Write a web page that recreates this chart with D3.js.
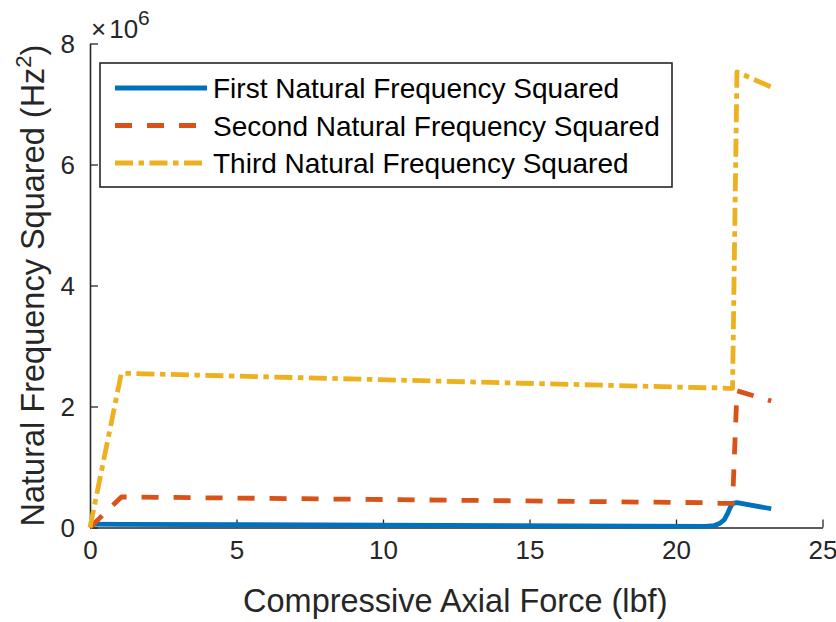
<!DOCTYPE html>
<html>
<head>
<meta charset="utf-8">
<script src="https://cdn.jsdelivr.net/npm/d3@7"></script>
<style>
  html, body { margin: 0; padding: 0; background: #fff; }
  svg { display: block; font-family: "Liberation Sans", Arial, Helvetica, sans-serif; }
</style>
</head>
<body>
<svg id="chart" width="836" height="622"></svg>
<script>
// Compressive axial force samples (lbf)
const force = [0, 1.07, 21.0, 21.3, 21.5, 21.65, 21.75, 21.85, 21.93, 22.08, 23.25];

// Squared natural frequencies, in units of 1e6 Hz^2
const firstFreqSq  = [0.055, 0.053, 0.02, 0.03, 0.07, 0.13, 0.22, 0.33, 0.40, 0.41, 0.31];
const secondFreqSq = [0, 0.505, 0.41, 0.405, 0.40, 0.40, 0.40, 0.40, 0.40, 2.26, 2.09];
const thirdFreqSq  = [0, 2.55, 2.31, 2.31, 2.305, 2.305, 2.30, 2.30, 2.30, 7.53, 7.28];

const seriesNames = [
  "First Natural Frequency Squared",
  "Second Natural Frequency Squared",
  "Third Natural Frequency Squared"
];

const xTicks = [0, 5, 10, 15, 20, 25];
const yTicks = [0, 2, 4, 6, 8];

const svg = d3.select("#chart");
const axisColor = "#262626";

const plotLeft = 90, plotRight = 822.5, plotTop = 43.5, plotBottom = 527.5;

const x = d3.scaleLinear().domain([0, 25]).range([plotLeft, plotRight]);
const y = d3.scaleLinear().domain([0, 8]).range([plotBottom, plotTop]);

const styles = [
  { color: "#0072BD", dash: null },
  { color: "#D95319", dash: "17,15" },
  { color: "#EDB120", dash: "18,5.5,5.5,5.5" }
];
const seriesValues = [firstFreqSq, secondFreqSq, thirdFreqSq];

// Axes: left and bottom only, inward ticks
const xAxis = d3.axisBottom(x).tickValues(xTicks).tickSizeInner(-8).tickSizeOuter(0).tickPadding(13);
const yAxis = d3.axisLeft(y).tickValues(yTicks).tickSizeInner(-8).tickSizeOuter(0).tickPadding(15);

const gx = svg.append("g").attr("transform", `translate(0,${plotBottom})`).call(xAxis);
const gy = svg.append("g").attr("transform", `translate(${plotLeft},0)`).call(yAxis);

[gx, gy].forEach(g => {
  g.select(".domain").attr("stroke", axisColor).attr("stroke-width", 1.6);
  g.selectAll(".tick line").attr("stroke", axisColor).attr("stroke-width", 1.3);
  g.selectAll(".tick text").attr("fill", axisColor).style("font-size", "26px")
    .style("font-family", "'Liberation Sans', Arial, sans-serif");
});
gy.selectAll(".tick text").attr("dy", "0.34em");

// Exponent marker above the y axis
const expo = svg.append("text")
  .attr("x", 91).attr("y", 38)
  .attr("fill", axisColor)
  .style("font-size", "26px");
expo.append("tspan").text("\u00d7");
expo.append("tspan").attr("dx", 3).text("10");
expo.append("tspan").attr("dy", -13).style("font-size", "21px").text("6");

// Axis labels
svg.append("text")
  .attr("x", (plotLeft + plotRight) / 2 - 1).attr("y", 612)
  .attr("text-anchor", "middle")
  .attr("fill", axisColor)
  .style("font-size", "32.5px")
  .text("Compressive Axial Force (lbf)");

const ylab = svg.append("text")
  .attr("transform", `translate(44,${(plotTop + plotBottom) / 2}) rotate(-90)`)
  .attr("text-anchor", "middle")
  .attr("fill", axisColor)
  .style("font-size", "32.5px");
ylab.append("tspan").text("Natural Frequency Squared (Hz");
ylab.append("tspan").attr("dy", -13).style("font-size", "22px").text("2");
ylab.append("tspan").attr("dy", 13).text(")");

// Lines
const line = d3.line()
  .x((d, i) => x(force[i]))
  .y(d => y(d));

seriesValues.forEach((vals, k) => {
  svg.append("path")
    .datum(vals)
    .attr("d", line)
    .attr("fill", "none")
    .attr("stroke", styles[k].color)
    .attr("stroke-width", 4.8)
    .attr("stroke-linejoin", "round")
    .attr("stroke-dasharray", styles[k].dash);
});

// Legend
const lg = svg.append("g");
lg.append("rect")
  .attr("x", 100).attr("y", 63).attr("width", 572).attr("height", 124)
  .attr("fill", "#fff").attr("stroke", axisColor).attr("stroke-width", 1.6);

seriesNames.forEach((name, k) => {
  const cy = 88 + k * 37.5;
  lg.append("line")
    .attr("x1", 115).attr("x2", 207).attr("y1", cy).attr("y2", cy)
    .attr("stroke", styles[k].color).attr("stroke-width", 4.8)
    .attr("stroke-dasharray", styles[k].dash);
  lg.append("text")
    .attr("x", 213).attr("y", cy).attr("dy", "0.36em")
    .attr("fill", "#000")
    .style("font-size", "28px")
    .text(name);
});
</script>
</body>
</html>
